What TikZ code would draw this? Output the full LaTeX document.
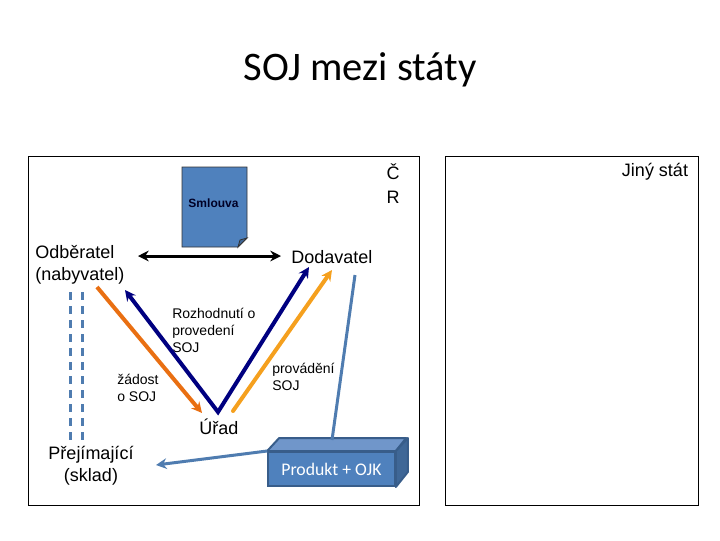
\documentclass[tikz,border=0pt]{standalone}
\usepackage{fontspec}
\setmainfont{Liberation Sans}
\newfontfamily\calibrifont{Carlito}
\usetikzlibrary{arrows.meta}
\definecolor{sojnavy}{HTML}{000080}
\definecolor{sojorange}{HTML}{E96F12}
\definecolor{sojamber}{HTML}{F5A01E}
\definecolor{sojblue}{HTML}{4F7CB0}
\definecolor{sojfront}{HTML}{4F81BD}
\definecolor{sojtop}{HTML}{7096CA}
\definecolor{sojside}{HTML}{3F6797}
\definecolor{sojedge}{HTML}{385D8A}
\tikzset{
  bigtext/.style={inner sep=0pt, align=center, font=\fontsize{13.5}{16.5}\selectfont},
  smalltext/.style={inner sep=0pt, align=left, anchor=west, font=\fontsize{10.5}{12.75}\selectfont},
  frame/.style={draw=black, line width=0.75pt},
  stealthtip/.style={-{Stealth[length=8pt, width=8pt]}},
  bothtips/.style={{Stealth[length=8pt, width=8pt]}-{Stealth[length=8pt, width=8pt]}},
}
\begin{document}
\begin{tikzpicture}[x=0.75pt, y=-0.75pt]
  \useasboundingbox (0,0) rectangle (720,540);
  \node (title) at (360,70) {\calibrifont\fontsize{30.4}{36}\selectfont SOJ mezi státy};
  \draw[frame] (28,156) rectangle (419,505);
  \draw[frame] (445,156) rectangle (698,505);
  % document
  \draw[fill=sojfront, draw=black!80, line width=0.6pt] (182,167) -- (247,167) -- (247,238) -- (238,247) -- (182,247) -- cycle;
  \draw[fill=sojside, draw=black!80, line width=0.6pt] (238,247) -- (240,240) -- (247,238) -- cycle;
  \node[inner sep=0pt, text=black!85!blue, font=\fontsize{9}{11}\selectfont\bfseries] (smlouva) at (213.5,203) {Smlouva};
  % labels
  \node[bigtext, align=left, anchor=west] (odberatel) at (35,265) {Odběratel\\(nabyvatel)};
  \node[bigtext, anchor=west] (dodavatel) at (291,257) {Dodavatel};
  \node[bigtext] (urad) at (219,427) {Úřad};
  \node[bigtext] (prejimajici) at (91,466) {Přejímající\\(sklad)};
  \node[bigtext] (cr) at (393,184) {Č\\[1.5pt]R};
  \node[bigtext] (jiny) at (655,172) {Jiný stát};
  \node[smalltext] (rozhodnuti) at (172,330) {Rozhodnutí o\\provedení\\SOJ};
  \node[smalltext] (zadost) at (117,387.5) {žádost\\o SOJ};
  \node[smalltext] (provadeni) at (272,376.5) {provádění\\SOJ};
  % box
  \node[draw=sojedge, line width=1.5pt, fill=sojfront, text=white, minimum width=95pt, minimum height=25.5pt, inner sep=0pt, font=\calibrifont\fontsize{13.3}{15}\selectfont] (produkt) at (331.5,469) {Produkt + OJK};
  \draw[draw=sojedge, line width=1.5pt, fill=sojtop, line join=round] (produkt.north west) -- ++(12,-13) -- ++(127,0) -- (produkt.north east) -- cycle;
  \draw[draw=sojedge, line width=1.5pt, fill=sojside, line join=round] (produkt.north east) -- ++(12,-13) -- ++(0,34) -- (produkt.south east) -- cycle;
  % end points of the connectors
  \coordinate (smlL) at (138,256);
  \coordinate (smlR) at (281,256);
  \coordinate (orS) at (97,287);
  \coordinate (orE) at (202,413);
  \coordinate (navyL) at (125,290);
  \coordinate (navyB) at (218,412);
  \coordinate (navyR) at (309,267);
  \coordinate (amS) at (233,411);
  \coordinate (amE) at (332,270);
  \coordinate (blS) at (355,275);
  \coordinate (blE) at (332,440);
  \coordinate (blTip) at (156,465);
  \coordinate (dashAS) at (70.5,292);
  \coordinate (dashAE) at (70.5,441);
  \coordinate (dashBS) at (82.5,292);
  \coordinate (dashBE) at (82.5,441);
  % connectors
  \draw[bothtips, line width=2.25pt, black] (smlL) -- (smlR);
  \draw[stealthtip, line width=3pt, sojorange] (orS) -- (orE);
  \draw[bothtips, line width=3pt, sojnavy, line join=miter] (navyL) -- (navyB) -- (navyR);
  \draw[stealthtip, line width=3pt, sojamber, line cap=round] (amS) -- (amE);
  \draw[line width=2.25pt, sojblue] (blS) -- (blE);
  \draw[stealthtip, line width=2.25pt, sojblue] (produkt.north west) -- (blTip);
  \foreach \dashS/\dashE in {dashAS/dashAE, dashBS/dashBE}
    \draw[line width=2.6pt, sojblue, dash pattern=on 6.3pt off 4.2pt] (\dashS) -- (\dashE);
\end{tikzpicture}
\end{document}
